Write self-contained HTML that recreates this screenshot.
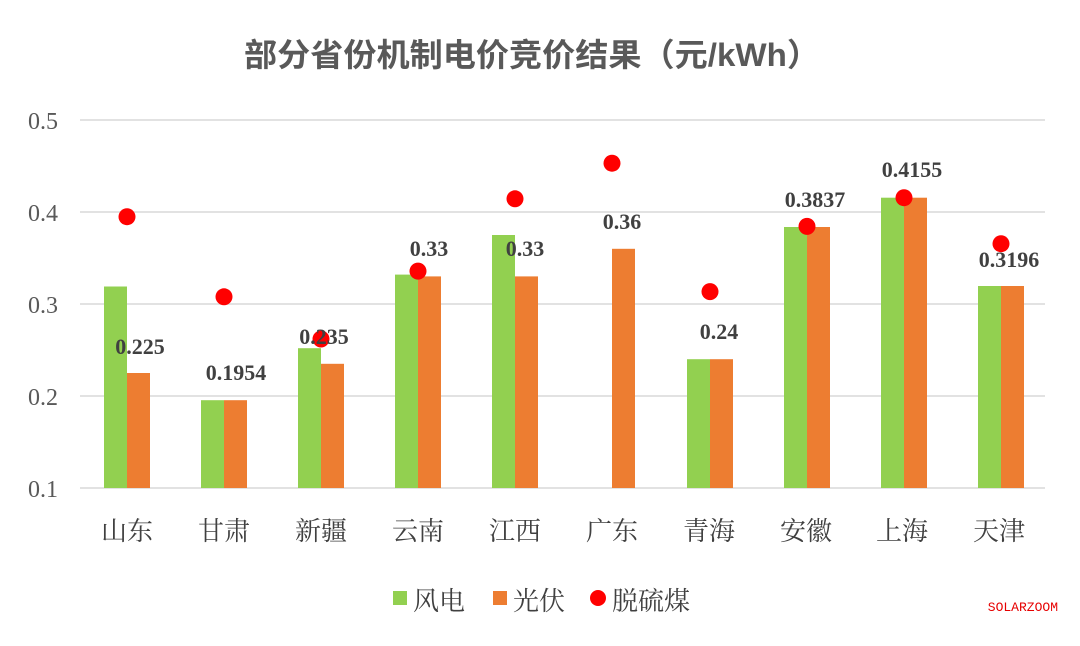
<!DOCTYPE html>
<html><head><meta charset="utf-8"><style>
body{margin:0;background:#fff}
svg text{font-family:"Liberation Serif","Noto Serif CJK SC",serif}
</style></head><body>
<svg width="1080" height="641" xmlns="http://www.w3.org/2000/svg">
<rect width="1080" height="641" fill="#fff"/>
<text x="532" y="66" text-anchor="middle" font-size="32" font-weight="bold" fill="#595959" style="font-family:'Liberation Sans','Noto Sans CJK SC',sans-serif" textLength="576" lengthAdjust="spacingAndGlyphs">部分省份机制电价竞价结果（元/kWh）</text>
<g stroke="#d9d9d9" stroke-width="1.5">
<line x1="80" y1="120" x2="1045" y2="120"/>
<line x1="80" y1="212" x2="1045" y2="212"/>
<line x1="80" y1="304" x2="1045" y2="304"/>
<line x1="80" y1="396" x2="1045" y2="396"/>
<line x1="80" y1="488" x2="1045" y2="488"/>
</g>
<g font-size="24" fill="#595959" text-anchor="end">
<text x="58" y="129">0.5</text><text x="58" y="221">0.4</text><text x="58" y="313">0.3</text><text x="58" y="405">0.2</text><text x="58" y="497">0.1</text>
</g>
<g fill="#92d050">
<rect x="104" y="286.5" width="23" height="201.5"/>
<rect x="201" y="400.2" width="23" height="87.8"/>
<rect x="298" y="348.2" width="23" height="139.8"/>
<rect x="395" y="274.6" width="23" height="213.4"/>
<rect x="492" y="235" width="23" height="253"/>
<rect x="687" y="359.2" width="23" height="128.8"/>
<rect x="784" y="227" width="23" height="261"/>
<rect x="881" y="197.7" width="23" height="290.3"/>
<rect x="978" y="286" width="23" height="202"/>
</g>
<g fill="#ed7d31">
<rect x="127" y="373" width="23" height="115"/>
<rect x="224" y="400.2" width="23" height="87.8"/>
<rect x="321" y="363.8" width="23" height="124.2"/>
<rect x="418" y="276.4" width="23" height="211.6"/>
<rect x="515" y="276.4" width="23" height="211.6"/>
<rect x="612" y="248.8" width="23" height="239.2"/>
<rect x="710" y="359.2" width="23" height="128.8"/>
<rect x="807" y="227" width="23" height="261"/>
<rect x="904" y="197.7" width="23" height="290.3"/>
<rect x="1001" y="286" width="23" height="202"/>
</g>
<g fill="#ff0000">
<circle cx="127" cy="216.7" r="8.5"/>
<circle cx="224" cy="296.8" r="8.5"/>
<circle cx="321" cy="339" r="8.5"/>
<circle cx="418" cy="271.1" r="8.5"/>
<circle cx="515" cy="198.8" r="8.5"/>
<circle cx="612" cy="163.2" r="8.5"/>
<circle cx="710" cy="291.6" r="8.5"/>
<circle cx="807" cy="226.4" r="8.5"/>
<circle cx="904" cy="197.7" r="8.5"/>
<circle cx="1001" cy="243.7" r="8.5"/>
</g>
<g font-size="26" fill="#404040" text-anchor="middle" style="font-family:'Liberation Sans','Noto Sans CJK SC',sans-serif">
<text x="127" y="540">山东</text><text x="224" y="540">甘肃</text><text x="321" y="540">新疆</text><text x="418" y="540">云南</text><text x="515" y="540">江西</text><text x="612" y="540">广东</text><text x="709" y="540">青海</text><text x="806" y="540">安徽</text><text x="902" y="540">上海</text><text x="999" y="540">天津</text>
</g>
<g font-size="22" font-weight="bold" fill="#404040" text-anchor="middle">
<text x="140" y="354">0.225</text><text x="236" y="380">0.1954</text><text x="324" y="344">0.235</text><text x="429" y="256">0.33</text><text x="525" y="256">0.33</text><text x="622" y="229">0.36</text><text x="719" y="339">0.24</text><text x="815" y="207">0.3837</text><text x="912" y="177">0.4155</text><text x="1009" y="267">0.3196</text>
</g>
<g font-size="26" fill="#404040" style="font-family:'Liberation Sans','Noto Sans CJK SC',sans-serif">
<rect x="393" y="591" width="14" height="14" fill="#92d050"/><text x="413" y="610">风电</text>
<rect x="493" y="591" width="14" height="14" fill="#ed7d31"/><text x="513" y="610">光伏</text>
<circle cx="598" cy="598" r="8" fill="#ff0000"/><text x="612" y="610">脱硫煤</text>
</g>
<text x="1058" y="611" text-anchor="end" font-size="13" fill="#e60000" style="font-family:'Liberation Mono',monospace">SOLARZOOM</text>
</svg>
</body></html>
